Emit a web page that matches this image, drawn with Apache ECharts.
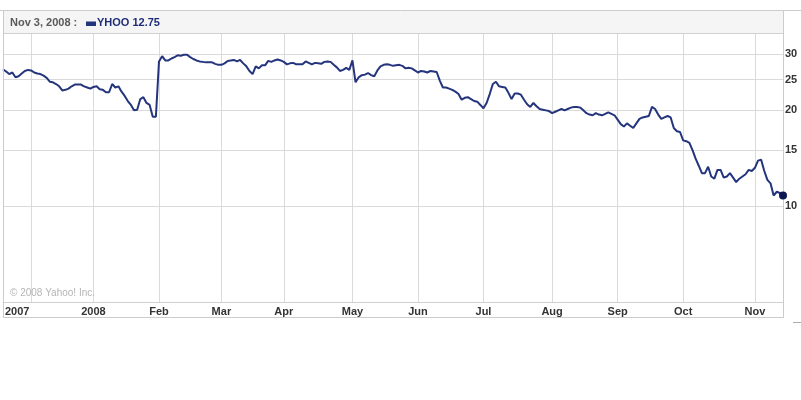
<!DOCTYPE html>
<html>
<head>
<meta charset="utf-8">
<script src="https://cdn.jsdelivr.net/npm/echarts@6/dist/echarts.min.js"></script>
<style>
html,body{margin:0;padding:0;background:#fff;}
#chart{width:801px;height:400px;}
</style>
</head>
<body>
<div id="chart"></div>
<script>
// YHOO closing prices, one per trading day (Nov 2007 - Nov 2008)
const values = [
26.9,26.5,26.0,26.3,25.4,25.6,26.1,26.6,26.8,26.7,
26.3,26.1,26.0,25.7,25.3,24.6,24.5,24.2,23.8,23.1,
23.2,23.4,23.8,24.1,24.1,24.1,23.8,23.6,23.4,23.7,
23.8,23.3,23.2,22.8,22.8,24.2,23.6,23.8,22.9,22.2,
21.4,20.8,20.0,20.1,21.7,22.0,21.1,20.8,19.1,19.1,
28.5,29.6,28.7,28.7,29.1,29.4,29.8,29.7,29.9,29.9,
29.4,29.0,28.7,28.5,28.4,28.3,28.3,28.3,28.0,27.8,
27.8,28.1,28.6,28.7,28.8,28.5,28.8,28.1,27.5,26.6,
26.0,27.5,27.1,27.7,27.7,28.6,28.4,28.7,28.9,28.7,
28.4,27.9,28.1,28.2,27.9,27.9,27.9,28.5,28.2,27.9,
28.2,28.1,28.0,28.4,28.5,28.4,27.8,27.3,26.6,26.8,
27.2,26.8,28.7,24.5,25.4,25.8,25.9,26.2,25.8,25.6,
26.7,27.5,27.8,27.9,27.8,27.6,27.7,27.8,27.6,27.1,
27.2,27.1,26.7,26.3,26.6,26.5,26.3,26.6,26.5,26.4,
24.8,23.6,23.6,23.4,23.2,22.9,22.5,21.6,21.9,22.0,
21.7,21.4,21.3,20.8,20.3,21.1,22.5,24.2,24.6,23.8,
23.7,23.6,22.7,21.7,22.6,22.6,22.4,21.6,20.9,20.5,
21.1,20.6,20.2,20.1,20.0,19.9,19.6,19.8,20.0,20.2,
20.0,20.2,20.4,20.5,20.5,20.4,20.0,19.6,19.4,19.3,
19.6,19.4,19.3,19.5,19.7,19.5,19.3,18.7,18.1,17.8,
18.2,17.9,17.6,18.2,18.8,19.0,19.1,19.2,20.5,20.2,
19.4,18.8,19.0,19.2,19.0,17.6,17.2,17.1,16.1,16.0,
15.8,15.0,14.1,13.4,12.7,12.7,13.3,12.4,12.2,13.0,
13.0,12.3,12.4,12.7,12.3,11.9,12.2,12.4,12.6,13.0,
12.9,13.2,13.9,14.0,12.9,12.1,11.8,10.8,11.1,11.0,
10.8
];
// trading-day index of each month start, and its label
const tickIndex  = [0, 9, 29, 50, 70, 90, 112, 133, 154, 176, 197, 218, 241];
const tickLabels = ['2007', '', '2008', 'Feb', 'Mar', 'Apr', 'May', 'Jun', 'Jul', 'Aug', 'Sep', 'Oct', 'Nov'];
// price ticks on the log axis
const yTicks = [10, 15, 20, 25, 30];
const headerDate = 'Nov 3, 2008 :';
const seriesName = 'YHOO';
const headerValue = '12.75';
const copyright = '\u00a9 2008 Yahoo! Inc.';

const FONT = '"Liberation Sans", Arial, sans-serif';
const N = values.length;
const categories = values.map((_, i) => i === 0 ? {value: String(i), textStyle: {align: 'left', padding: [0, 0, 0, 2]}} : String(i));
const lastDot = values.map((v, i) => i === N - 1 ? v : '-');

const chart = echarts.init(document.getElementById('chart'), null, {renderer: 'canvas'});
chart.setOption({
  animation: false,
  backgroundColor: '#ffffff',
  grid: {left: 3, right: 18, top: 33, bottom: 98, containLabel: false},
  xAxis: {
    type: 'category',
    data: categories,
    boundaryGap: false,
    axisLine: {show: true, lineStyle: {color: '#cfcfcf', width: 1}},
    axisTick: {show: false},
    axisLabel: {
      interval: (idx) => tickIndex.indexOf(idx) >= 0 && tickLabels[tickIndex.indexOf(idx)] !== '',
      formatter: (val, idx) => { const k = tickIndex.indexOf(idx); return k >= 0 ? tickLabels[k] : ''; },
      color: '#333', fontWeight: 'bold', fontSize: 11, fontFamily: FONT, margin: 4,
      showMinLabel: true, showMaxLabel: true
    },
    splitLine: {
      show: true,
      interval: (idx) => idx > 0 && tickIndex.indexOf(idx) >= 0,
      lineStyle: {color: '#dadada', width: 1}
    }
  },
  yAxis: {
    type: 'log', logBase: 10, min: 5, max: 35,
    show: false
  },
  series: [
    {
      name: seriesName,
      type: 'line',
      data: values,
      showSymbol: false,
      silent: true,
      z: 3,
      lineStyle: {color: '#24357d', width: 2},
      itemStyle: {color: '#24357d'},
      markLine: {
        silent: true, symbol: 'none', z: 1, animation: false,
        lineStyle: {color: '#dadada', width: 1, type: 'solid'},
        label: {
          show: true, position: 'end', distance: 2, formatter: '{c}',
          color: '#333', fontWeight: 'bold', fontSize: 11, fontFamily: FONT
        },
        emphasis: {disabled: true},
        data: yTicks.map(v => ({yAxis: v}))
      }
    },
    {
      type: 'scatter',
      data: lastDot,
      symbol: 'circle',
      symbolSize: 8,
      silent: true,
      z: 5,
      itemStyle: {color: '#0d1852', borderWidth: 0, opacity: 1}
    }
  ],
  graphic: [
    {type: 'rect', z: -10, shape: {x: 3.5, y: 10.5, width: 780, height: 22.5}, style: {fill: '#f5f5f5', stroke: 'none'}},
    {type: 'line', z: 10, shape: {x1: 0, y1: 10.5, x2: 801, y2: 10.5}, style: {stroke: '#cccccc', lineWidth: 1}},
    {type: 'line', z: 10, shape: {x1: 3, y1: 33.5, x2: 783, y2: 33.5}, style: {stroke: '#d0d0d0', lineWidth: 1}},
    {type: 'line', z: 10, shape: {x1: 3.5, y1: 10.5, x2: 3.5, y2: 317.5}, style: {stroke: '#cccccc', lineWidth: 1}},
    {type: 'line', z: 1, shape: {x1: 783.5, y1: 10.5, x2: 783.5, y2: 317.5}, style: {stroke: '#cccccc', lineWidth: 1}},
    {type: 'line', z: 10, shape: {x1: 3, y1: 317.5, x2: 784, y2: 317.5}, style: {stroke: '#cccccc', lineWidth: 1}},
    {type: 'line', z: 10, shape: {x1: 793, y1: 322.5, x2: 801, y2: 322.5}, style: {stroke: '#aaaaaa', lineWidth: 1}},
    {type: 'text', z: 11, x: 10, y: 23, style: {text: headerDate, fill: '#5a5a5a', font: 'bold 11px ' + FONT, verticalAlign: 'middle'}},
    {type: 'rect', z: 11, shape: {x: 86, y: 21.5, width: 10, height: 4.5}, style: {fill: '#24357d'}},
    {type: 'text', z: 11, x: 97, y: 23, style: {text: seriesName + ' ' + headerValue, fill: '#1f2c78', font: 'bold 11px ' + FONT, verticalAlign: 'middle'}},
    {type: 'text', z: 11, x: 10, y: 293, style: {text: copyright, fill: '#b5b5b5', font: '10px ' + FONT, verticalAlign: 'middle'}}
  ]
});
</script>
</body>
</html>
